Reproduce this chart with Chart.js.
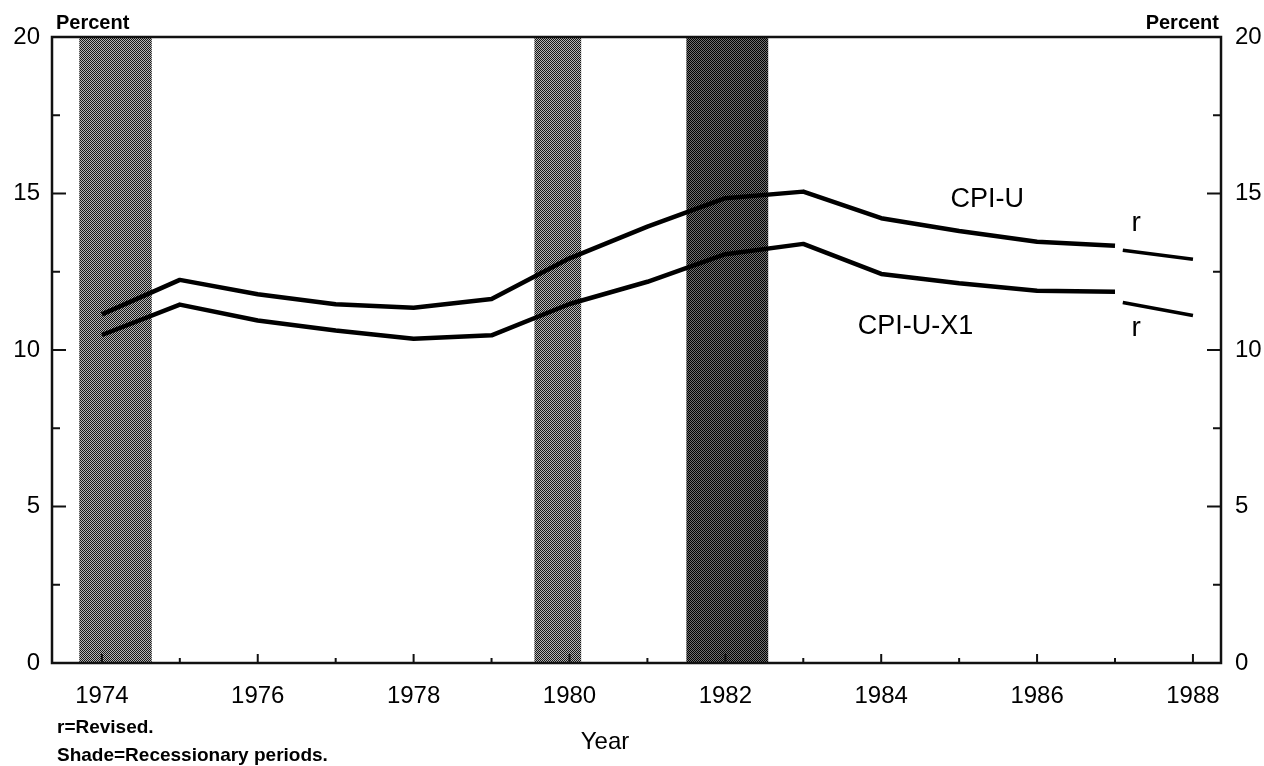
<!DOCTYPE html>
<html>
<head>
<meta charset="utf-8">
<script src="https://cdn.jsdelivr.net/npm/chart.js@4.4.1/dist/chart.umd.min.js"></script>
<style>
  html, body { margin: 0; padding: 0; background: #fff; }
  #wrap { width: 1264px; height: 766px; }
</style>
</head>
<body>
<div id="wrap"><canvas id="chart" width="1264" height="766"></canvas></div>
<script>
'use strict';

// values
const years = [1974, 1975, 1976, 1977, 1978, 1979, 1980, 1981, 1982, 1983, 1984, 1985, 1986, 1987];
const cpiU = [11.14, 12.24, 11.78, 11.46, 11.35, 11.63, 12.93, 13.94, 14.85, 15.06, 14.21, 13.80, 13.46, 13.33];
const cpiUX1 = [10.48, 11.45, 10.94, 10.62, 10.36, 10.47, 11.47, 12.18, 13.06, 13.39, 12.43, 12.13, 11.89, 11.86];

// revised segments (r)
const revisedYears = [1987.1, 1988];
const cpiURevised = [13.19, 12.90];
const cpiUX1Revised = [11.52, 11.10];

// shaded recession periods
const recessionStart = [1973.71, 1979.55, 1981.5];
const recessionEnd = [1974.64, 1980.15, 1982.55];
const recessionDark = [false, false, true];

const yTicks = [0, 2.5, 5, 7.5, 10, 12.5, 15, 17.5, 20];
const yTickLabels = [0, 5, 10, 15, 20];
const xTicks = [1974, 1975, 1976, 1977, 1978, 1979, 1980, 1981, 1982, 1983, 1984, 1985, 1986, 1987, 1988];
const xTickLabels = [1974, 1976, 1978, 1980, 1982, 1984, 1986, 1988];

const canvasElem = document.getElementById('chart');
const ctx = canvasElem.getContext('2d');

function toPoints(xs, ys) {
  const pts = [];
  for (let i = 0; i < xs.length; i++) {
    pts.push({ x: xs[i], y: ys[i] });
  }
  return pts;
}

function makePattern(dark, light) {
  const c = document.createElement('canvas');
  c.width = 2;
  c.height = 2;
  const g = c.getContext('2d');
  g.fillStyle = light;
  g.fillRect(0, 0, 2, 2);
  g.fillStyle = dark;
  g.fillRect(0, 0, 1, 1);
  g.fillRect(1, 1, 1, 1);
  return ctx.createPattern(c, 'repeat');
}

const lightShade = makePattern('#151515', '#b4b4b4');
const darkShade = makePattern('#000000', '#707070');

const shadePlugin = {
  id: 'shade',
  beforeDatasetsDraw(chart) {
    const c = chart.ctx;
    const xs = chart.scales.x;
    const area = chart.chartArea;
    c.save();
    for (let i = 0; i < recessionStart.length; i++) {
      const x0 = xs.getPixelForValue(recessionStart[i]);
      const x1 = xs.getPixelForValue(recessionEnd[i]);
      c.fillStyle = recessionDark[i] ? darkShade : lightShade;
      c.fillRect(x0, area.top, x1 - x0, area.bottom - area.top);
    }
    c.restore();
  }
};

const framePlugin = {
  id: 'frame',
  afterDraw(chart) {
    const c = chart.ctx;
    const area = chart.chartArea;
    const xs = chart.scales.x;
    const yl = chart.scales.y;
    c.save();
    c.strokeStyle = '#111';
    c.lineWidth = 2.5;
    c.strokeRect(area.left, area.top, area.right - area.left, area.bottom - area.top);

    // inward tick marks
    c.lineWidth = 2;
    c.beginPath();
    yl.ticks.forEach(t => {
      const py = yl.getPixelForValue(t.value);
      const len = yTickLabels.includes(t.value) ? 14 : 8;
      c.moveTo(area.left, py);
      c.lineTo(area.left + len, py);
      c.moveTo(area.right, py);
      c.lineTo(area.right - len, py);
    });
    xs.ticks.forEach(t => {
      const px = xs.getPixelForValue(t.value);
      const len = xTickLabels.includes(t.value) ? 9 : 5;
      c.moveTo(px, area.bottom);
      c.lineTo(px, area.bottom - len);
    });
    c.stroke();

    // text
    c.fillStyle = '#000';
    c.textBaseline = 'middle';
    c.font = '27px "Liberation Sans", Arial, sans-serif';
    c.textAlign = 'center';
    c.fillText('CPI-U', xs.getPixelForValue(1985.36), yl.getPixelForValue(14.81));
    c.fillText('CPI-U-X1', xs.getPixelForValue(1984.44), yl.getPixelForValue(10.74));
    c.font = '28px "Liberation Sans", Arial, sans-serif';
    c.fillText('r', xs.getPixelForValue(1987.27), yl.getPixelForValue(14.05));
    c.fillText('r', xs.getPixelForValue(1987.27), yl.getPixelForValue(10.7));

    c.font = 'bold 20px "Liberation Sans", Arial, sans-serif';
    c.textAlign = 'left';
    c.fillText('Percent', 56, 23);
    c.textAlign = 'right';
    c.fillText('Percent', 1219, 23);

    c.font = '24px "Liberation Sans", Arial, sans-serif';
    c.textAlign = 'center';
    c.fillText('Year', 605, 742);

    c.font = 'bold 19px "Liberation Sans", Arial, sans-serif';
    c.textAlign = 'left';
    c.fillText('r=Revised.', 57, 728);
    c.fillText('Shade=Recessionary periods.', 57, 756);
    c.restore();
  }
};

const lineStyle = {
  borderColor: '#000',
  pointRadius: 0,
  tension: 0,
  fill: false,
  borderJoinStyle: 'round',
  borderCapStyle: 'butt'
};

const tickFont = { size: 24, family: '"Liberation Sans", Arial, sans-serif' };

const config = {
  type: 'line',
  data: {
    datasets: [
      Object.assign({ label: 'CPI-U', data: toPoints(years, cpiU), borderWidth: 4.5 }, lineStyle),
      Object.assign({ label: 'CPI-U-X1', data: toPoints(years, cpiUX1), borderWidth: 4.5 }, lineStyle),
      Object.assign({ label: 'CPI-U r', data: toPoints(revisedYears, cpiURevised), borderWidth: 3.5 }, lineStyle),
      Object.assign({ label: 'CPI-U-X1 r', data: toPoints(revisedYears, cpiUX1Revised), borderWidth: 3.5 }, lineStyle)
    ]
  },
  options: {
    responsive: false,
    animation: false,
    devicePixelRatio: 1,
    layout: { padding: { top: 37, left: 0, right: 0, bottom: 0 } },
    plugins: {
      legend: { display: false },
      title: { display: false },
      tooltip: { enabled: false }
    },
    scales: {
      x: {
        type: 'linear',
        min: 1973.36,
        max: 1988.36,
        grid: { display: false, drawTicks: false },
        border: { display: false },
        afterBuildTicks: s => { s.ticks = xTicks.map(v => ({ value: v })); },
        ticks: {
          autoSkip: false,
          maxRotation: 0,
          padding: 19,
          color: '#000',
          font: tickFont,
          callback: v => (xTickLabels.includes(v) ? String(v) : '')
        },
        afterFit: s => { s.height = 103; }
      },
      y: {
        position: 'left',
        min: 0,
        max: 20,
        grid: { display: false, drawTicks: false },
        border: { display: false },
        afterBuildTicks: s => { s.ticks = yTicks.map(v => ({ value: v })); },
        ticks: {
          padding: 12,
          color: '#000',
          font: tickFont,
          callback: v => (yTickLabels.includes(v) ? String(v) : '')
        },
        afterFit: s => { s.width = 52; }
      },
      y2: {
        position: 'right',
        min: 0,
        max: 20,
        grid: { display: false, drawTicks: false },
        border: { display: false },
        afterBuildTicks: s => { s.ticks = yTicks.map(v => ({ value: v })); },
        ticks: {
          padding: 14,
          color: '#000',
          font: tickFont,
          callback: v => (yTickLabels.includes(v) ? String(v) : '')
        },
        afterFit: s => { s.width = 43; }
      }
    }
  },
  plugins: [shadePlugin, framePlugin]
};

const myChart = new Chart(canvasElem, config);
</script>
</body>
</html>
